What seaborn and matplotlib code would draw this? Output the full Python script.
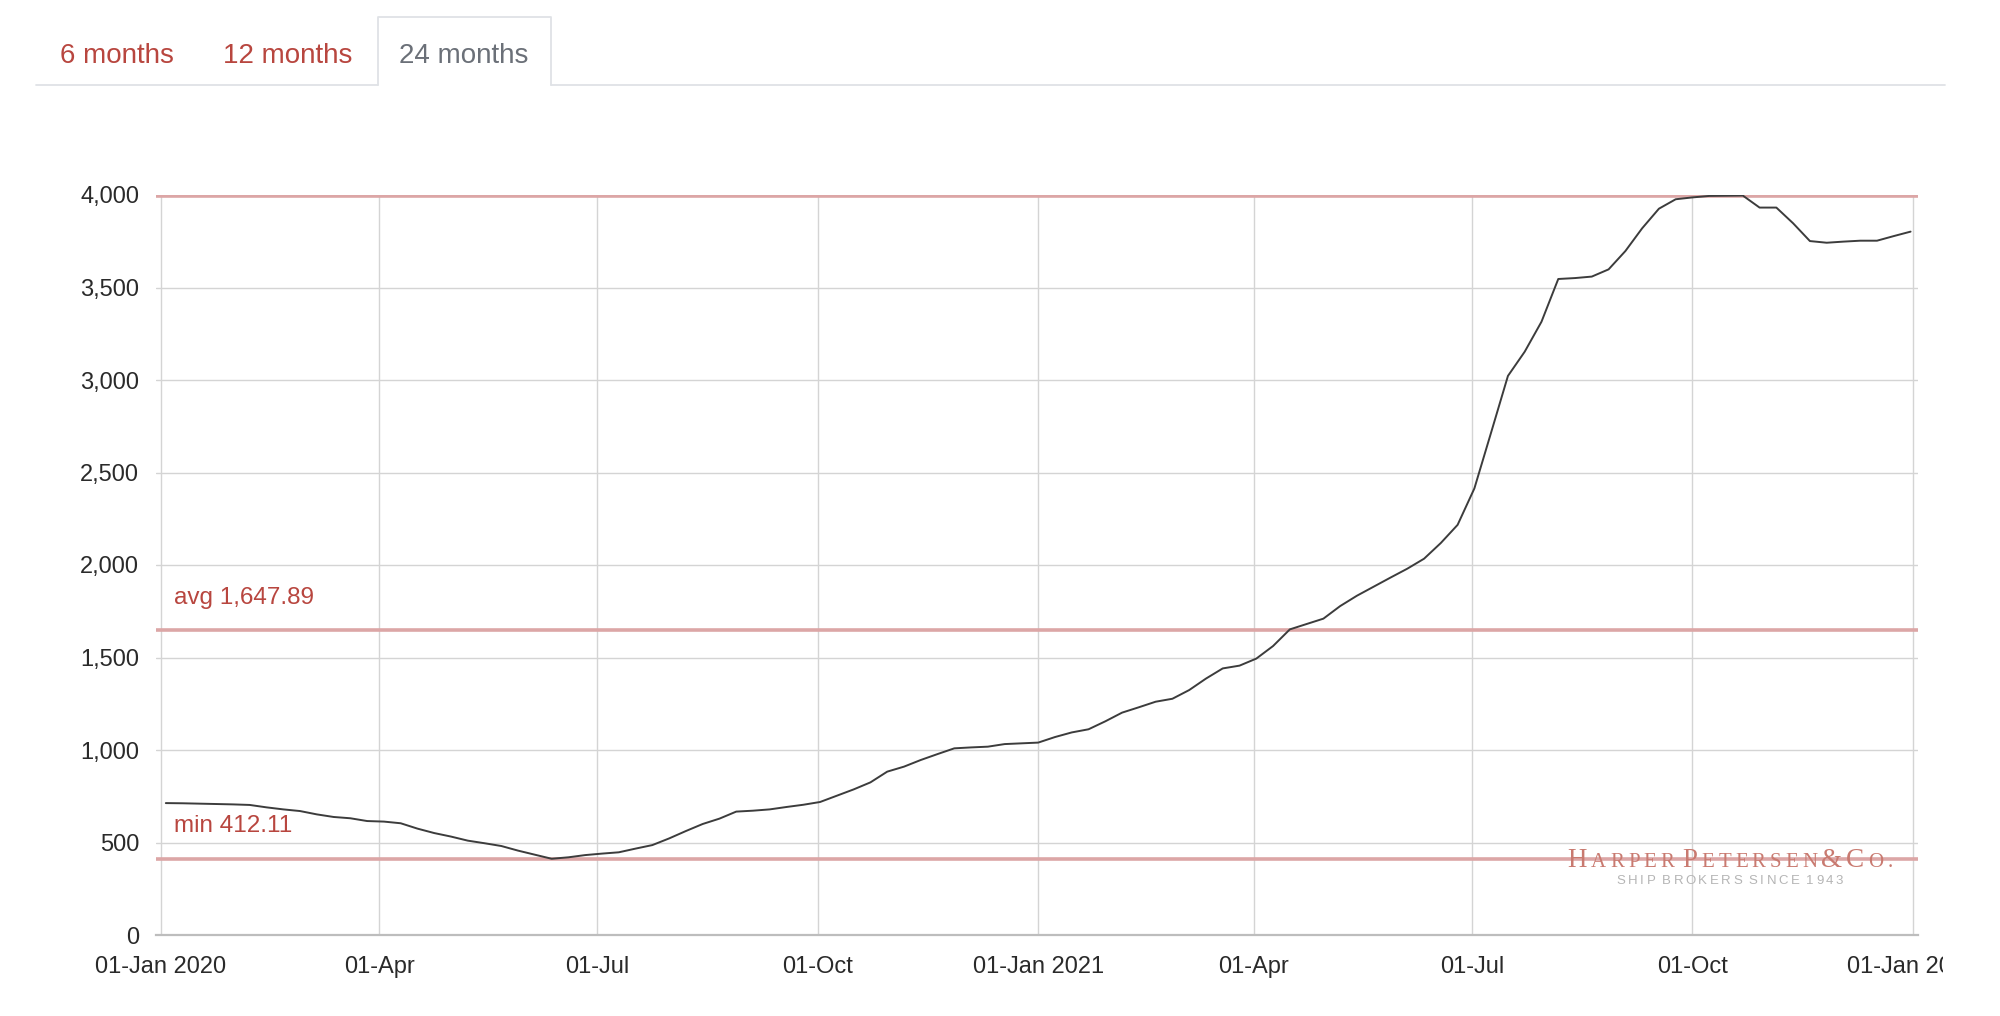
import matplotlib

matplotlib.use("Agg")
import matplotlib.pyplot as plt
import pandas as pd
import seaborn as sns
from matplotlib.lines import Line2D
from matplotlib.ticker import FuncFormatter
from matplotlib.transforms import Bbox, IdentityTransform, TransformedBbox, blended_transform_factory

# weekly index values, first Friday of 2020 to last Friday of 2021
first_week = "2020-01-03"
rate_values = [
    713, 712, 710, 708, 706, 703, 690, 679, 670, 652,
    638, 631, 616, 613, 604, 575, 551, 532, 510, 496,
    481, 456, 434, 412.11, 420, 432, 440, 447, 467, 486,
    522, 562, 600, 629, 667, 672, 679, 692, 704, 719,
    753, 787, 825, 883, 910, 946, 978, 1009, 1014, 1018,
    1032, 1036, 1040, 1070, 1095, 1112, 1155, 1202, 1231, 1261,
    1277, 1324, 1386, 1441, 1456, 1494, 1562, 1652, 1681, 1710,
    1778, 1834, 1883, 1932, 1980, 2034, 2119, 2217, 2414, 2717,
    3022, 3153, 3315, 3546, 3551, 3559, 3598, 3697, 3820, 3926,
    3977, 3987, 3995, 3996, 3997, 3932, 3932, 3847, 3751, 3742,
    3748, 3753, 3753, 3778, 3802,
]
avg_value = 1647.89
min_value = 412.11

tick_dates = [
    "2020-01-01", "2020-04-01", "2020-07-01", "2020-10-01",
    "2021-01-01", "2021-04-01", "2021-07-01", "2021-10-01", "2022-01-01",
]
tick_labels = [
    "01-Jan 2020", "01-Apr", "01-Jul", "01-Oct",
    "01-Jan 2021", "01-Apr", "01-Jul", "01-Oct", "01-Jan 2022",
]
y_ticks = list(range(0, 4001, 500))
tab_labels = ["6 months", "12 months", "24 months"]
active_tab = "24 months"

W, H, DPI = 2000, 1016, 100
RED = "#b8463f"
RED_LINE = "#dca6a6"


def fx(px):
    return px / W


def fy(py):
    return 1 - py / H


def spaced_text(fig, renderer, center_x, baseline, runs, tracking, color, family):
    """Draw text glyph by glyph so letter spacing and small caps can be faked."""
    placed = []
    cursor = 0.0
    for chunk, size in runs:
        for ch in chunk:
            if ch == " ":
                cursor += size * 0.32 * DPI / 72
                continue
            t = fig.text(0, 0, ch, fontsize=size, family=family, color=color,
                         transform=IdentityTransform(), va="baseline", ha="left", zorder=1)
            width = t.get_window_extent(renderer).width
            placed.append((t, cursor))
            cursor += width + tracking
    total = cursor - tracking
    left = center_x - total / 2
    for t, offset in placed:
        t.set_position((left + offset, H - baseline))


sns.set_theme(style="white")
plt.rcParams["font.family"] = ["Liberation Sans", "DejaVu Sans"]

weeks = pd.date_range(first_week, periods=len(rate_values), freq="7D")
frame = pd.DataFrame({"week": weeks, "rate": rate_values})

fig = plt.figure(figsize=(W / DPI, H / DPI), dpi=DPI)
ax = fig.add_axes([fx(156), 1 - 935 / H, (1918 - 156) / W, (935 - 195) / H])

sns.lineplot(data=frame, x="week", y="rate", ax=ax, color="#3c3c3c", linewidth=1.4, zorder=4)

ax.set_ylim(0, 4000)
ax.set_yticks(y_ticks)
ax.yaxis.set_major_formatter(FuncFormatter(lambda v, _: f"{v:,.0f}"))
ax.set_xlim(pd.Timestamp("2020-01-01") - pd.Timedelta(days=2.1),
            pd.Timestamp("2022-01-01") + pd.Timedelta(days=2.1))
ax.set_xticks(pd.to_datetime(tick_dates))
ax.set_xticklabels(tick_labels)
ax.set_xlabel("")
ax.set_ylabel("")

ax.grid(True, color="#d4d4d4", linewidth=1.0)
ax.set_axisbelow(True)
for side in ["left", "right", "top"]:
    ax.spines[side].set_visible(False)
ax.spines["bottom"].set_color("#bdbdbd")
ax.spines["bottom"].set_linewidth(1.6)
ax.tick_params(axis="both", length=0, labelsize=17, labelcolor="#2a2a2a")
ax.tick_params(axis="x", pad=15)
ax.tick_params(axis="y", pad=12)

# last date label is cut by the page container
clip = TransformedBbox(Bbox.from_extents(0, 0, 1943 / W, 1), fig.transFigure)
last_label = ax.get_xticklabels()[-1]
last_label.set_clip_box(clip)
last_label.set_clip_on(True)

# reference lines for max / avg / min
max_value = max(rate_values)
for value in [max_value, avg_value, min_value]:
    ax.axhline(value, color=RED_LINE, linewidth=2.6, zorder=3)
label_tf = blended_transform_factory(ax.transAxes, ax.transData)
for label, value in [(f"avg {avg_value:,.2f}", avg_value), (f"min {min_value:,.2f}", min_value)]:
    ax.annotate(label, xy=(0.0102, value), xycoords=label_tf, xytext=(0, 19),
                textcoords="offset points", fontsize=17.5, color=RED, va="baseline", ha="left")

# tabs above the chart
line_color = "#dfe2e6"
fig.add_artist(Line2D([fx(36), fx(378)], [fy(85), fy(85)], transform=fig.transFigure,
                      color=line_color, linewidth=1.3))
fig.add_artist(Line2D([fx(551), fx(1945)], [fy(85), fy(85)], transform=fig.transFigure,
                      color=line_color, linewidth=1.3))
fig.add_artist(Line2D([fx(378), fx(378), fx(551), fx(551)], [fy(85), fy(17), fy(17), fy(85)],
                      transform=fig.transFigure, color=line_color, linewidth=1.3))
for label, cx in zip(tab_labels, [117, 288, 464]):
    color = "#6b7078" if label == active_tab else RED
    fig.text(fx(cx), fy(63), label, fontsize=20, color=color, ha="center", va="baseline")

# watermark
renderer = fig.canvas.get_renderer()
spaced_text(fig, renderer, 1730, 867,
            [("H", 19.5), ("ARPER", 15), (" ", 10), ("P", 19.5), ("ETERSEN", 15),
             ("&", 19.5), ("C", 19.5), ("O.", 15)],
            4.0, "#c97a70", "Liberation Serif")
spaced_text(fig, renderer, 1730, 884, [("SHIP BROKERS SINCE 1943", 9.5)],
            2.5, "#b5b5b5", "Liberation Sans")

fig.savefig("out.png", dpi=DPI, facecolor="white")
